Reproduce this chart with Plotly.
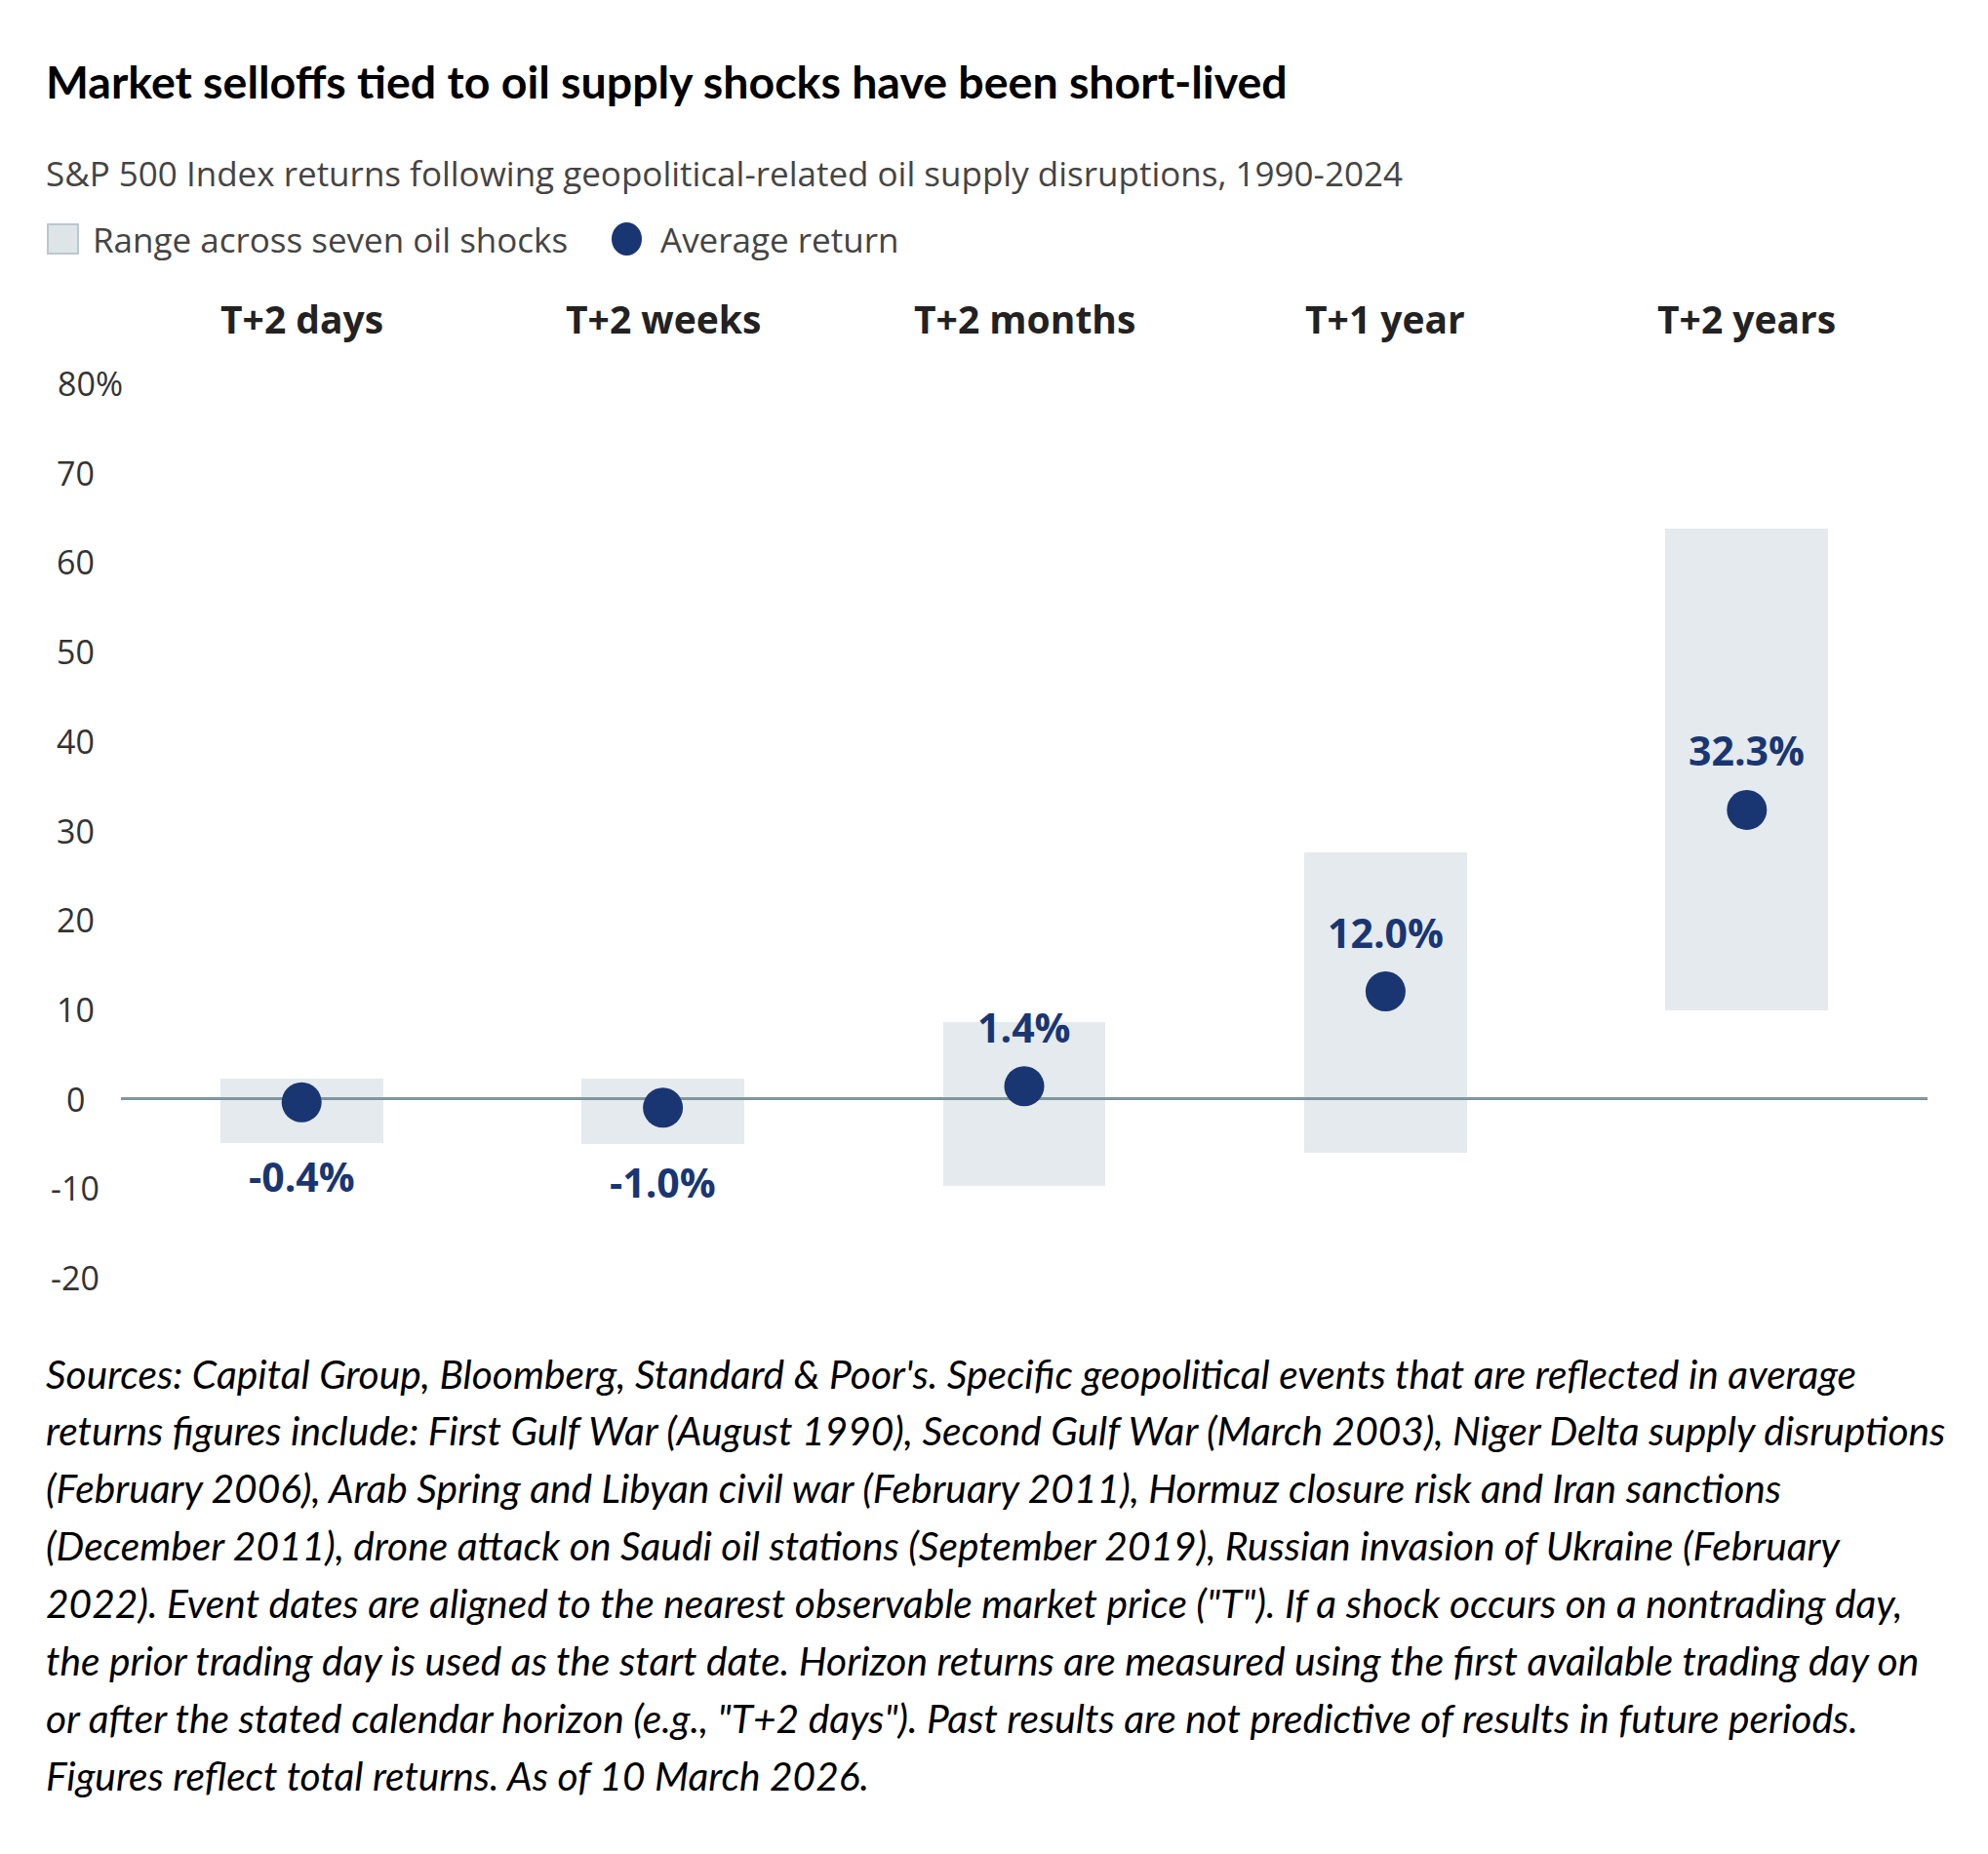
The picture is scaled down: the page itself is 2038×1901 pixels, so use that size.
import plotly.graph_objects as go

# Data (S&P 500 returns after oil supply shocks, %)
horizons = ['T+2 days', 'T+2 weeks', 'T+2 months', 'T+1 year', 'T+2 years']
range_low = [-4.9, -5.1, -9.8, -6.0, 9.9]
range_high = [2.2, 2.2, 8.6, 27.5, 63.7]
avg_return = [-0.4, -1.0, 1.4, 12.0, 32.3]
avg_labels = ['-0.4%', '-1.0%', '1.4%', '12.0%', '32.3%']
y_ticks = [80, 70, 60, 50, 40, 30, 20, 10, 0, -10, -20]
y_tick_labels = ['80%', '70', '60', '50', '40', '30', '20', '10', '0', '-10', '-20']

footnote_lines = [
    "Sources: Capital Group, Bloomberg, Standard & Poor's. Specific geopolitical events that are reflected in average",
    "returns figures include: First Gulf War (August 1990), Second Gulf War (March 2003), Niger Delta supply disruptions",
    "(February 2006), Arab Spring and Libyan civil war (February 2011), Hormuz closure risk and Iran sanctions",
    "(December 2011), drone attack on Saudi oil stations (September 2019), Russian invasion of Ukraine (February",
    "2022). Event dates are aligned to the nearest observable market price (\"T\"). If a shock occurs on a nontrading day,",
    "the prior trading day is used as the start date. Horizon returns are measured using the first available trading day on",
    "or after the stated calendar horizon (e.g., \"T+2 days\"). Past results are not predictive of results in future periods.",
    "Figures reflect total returns. As of 10 March 2026.",
]

# the page body has an 8px margin, so the figure is a bit smaller than the window
OFF = 8
W, H = 2038 - OFF, 1901 - OFF
ML, MR, MT, MB = 124 - OFF, 62, 393 - OFF, 591
NAVY = '#1a3672'
RANGE_FILL = '#e4eaed'
TITLE_FONT = 'Lato, sans-serif'
SANS = 'Open Sans, Lato, sans-serif'


def px_x(px):
    # page pixel -> paper x
    return (px - OFF - ML) / (W - ML - MR)


def px_y(py):
    # page pixel -> paper y
    return (H - MB - (py - OFF)) / (H - MT - MB)


x_pos = list(range(len(horizons)))

fig = go.Figure()

# range boxes
fig.add_trace(go.Bar(
    x=x_pos,
    y=[h - l for h, l in zip(range_high, range_low)],
    base=range_low,
    width=0.45,
    marker=dict(color=RANGE_FILL, line=dict(width=0)),
    hoverinfo='skip',
))

# zero line (between boxes and dots)
fig.add_trace(go.Scatter(
    x=[-0.5, len(horizons) - 0.5], y=[0, 0],
    mode='lines', line=dict(color='#7f979e', width=3),
    hoverinfo='skip',
))

# average return dots
fig.add_trace(go.Scatter(
    x=x_pos, y=avg_return,
    mode='markers',
    marker=dict(color=NAVY, size=41, line=dict(width=0)),
))

annotations = []

# value labels
for xi, v, lab in zip(x_pos, avg_return, avg_labels):
    annotations.append(dict(
        x=xi, y=v, xref='x', yref='y', text='<b>%s</b>' % lab,
        showarrow=False, yshift=61 if v > 0 else -76,
        font=dict(family=SANS, size=41, color=NAVY),
        xanchor='center', yanchor='middle',
    ))

# column headers
for xi, name in zip(x_pos, horizons):
    annotations.append(dict(
        x=xi, y=px_y(326), xref='x', yref='paper', text='<b>%s</b>' % name,
        showarrow=False, font=dict(family=SANS, size=39, color='#222222'),
        xanchor='center', yanchor='middle',
    ))

# y tick labels, centred like the original
for t, lab in zip(y_ticks, y_tick_labels):
    annotations.append(dict(
        x=px_x(77), y=t, xref='paper', yref='y', text=lab,
        showarrow=False, font=dict(family=SANS, size=34, color='#333333'),
        xanchor='center', yanchor='middle',
        xshift=15 if lab.endswith('%') else 0,
    ))

# title, subtitle, legend text
annotations.append(dict(
    x=px_x(45), y=px_y(83), xref='paper', yref='paper',
    text='<b>Market selloffs tied to oil supply shocks have been short-lived</b>',
    showarrow=False, font=dict(family=TITLE_FONT, size=46.5, color='#000000'),
    xanchor='left', yanchor='middle',
))
annotations.append(dict(
    x=px_x(45), y=px_y(178), xref='paper', yref='paper',
    text='S&P 500 Index returns following geopolitical-related oil supply disruptions, 1990-2024',
    showarrow=False, font=dict(family=SANS, size=35, color='#444444'),
    xanchor='left', yanchor='middle',
))
annotations.append(dict(
    x=px_x(93), y=px_y(245), xref='paper', yref='paper',
    text='Range across seven oil shocks',
    showarrow=False, font=dict(family=SANS, size=35, color='#444444'),
    xanchor='left', yanchor='middle',
))
annotations.append(dict(
    x=px_x(675), y=px_y(245), xref='paper', yref='paper',
    text='Average return',
    showarrow=False, font=dict(family=SANS, size=35, color='#444444'),
    xanchor='left', yanchor='middle',
))

# footnote
for i, line in enumerate(footnote_lines):
    annotations.append(dict(
        x=px_x(45), y=px_y(1408 + i * 58.9), xref='paper', yref='paper',
        text='<i>%s</i>' % line,
        showarrow=False, font=dict(family=TITLE_FONT, size=40.7, color='#000000'),
        xanchor='left', yanchor='middle',
    ))

shapes = [
    # legend swatches
    dict(type='rect', xref='paper', yref='paper',
         x0=px_x(49), x1=px_x(80), y0=px_y(260), y1=px_y(230),
         fillcolor='#dde5e9', line=dict(color='#b9c8ce', width=2)),
    dict(type='circle', xref='paper', yref='paper',
         x0=px_x(627), x1=px_x(658), y0=px_y(262), y1=px_y(228),
         fillcolor=NAVY, line=dict(width=0)),
]

fig.update_layout(
    width=W, height=H,
    margin=dict(l=ML, r=MR, t=MT, b=MB),
    paper_bgcolor='white', plot_bgcolor='white',
    showlegend=False,
    bargap=0,
    annotations=annotations,
    shapes=shapes,
)
fig.update_xaxes(range=[-0.5, len(horizons) - 0.5], showgrid=False,
                 zeroline=False, showticklabels=False, showline=False)
fig.update_yaxes(range=[-20, 80], showgrid=False, zeroline=False,
                 showticklabels=False, showline=False)

fig.write_html("out.html")
